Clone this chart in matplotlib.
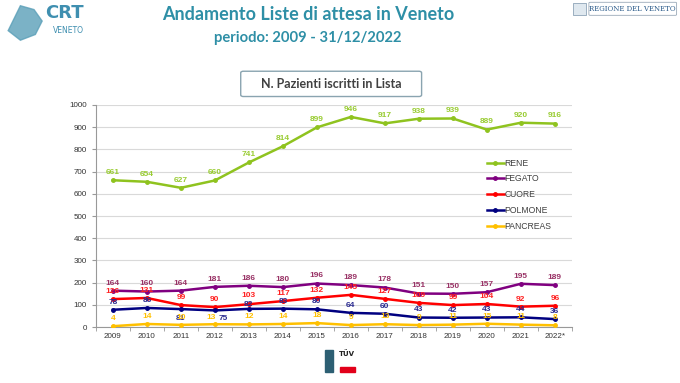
import matplotlib.pyplot as plt
from matplotlib.patches import FancyBboxPatch, Rectangle, Polygon
import numpy as np

# Waiting list data, Veneto
years = ['2009', '2010', '2011', '2012', '2013', '2014', '2015', '2016',
         '2017', '2018', '2019', '2020', '2021', '2022*']
rene = [661, 654, 627, 660, 741, 814, 899, 946, 917, 938, 939, 889, 920, 916]
fegato = [164, 160, 164, 181, 186, 180, 196, 189, 178, 151, 150, 157, 195, 189]
cuore = [126, 131, 99, 90, 103, 117, 132, 145, 127, 109, 99, 104, 92, 96]
polmone = [78, 86, 81, 75, 82, 83, 80, 64, 60, 43, 42, 43, 44, 36]
pancreas = [4, 14, 10, 13, 12, 14, 18, 9, 13, 9, 11, 15, 11, 8]

series = [
    ('RENE', rene, '#8fc31f', '#99cc33'),
    ('FEGATO', fegato, '#800080', '#993366'),
    ('CUORE', cuore, '#ff0000', '#ff2020'),
    ('POLMONE', polmone, '#000080', '#2a2a90'),
    ('PANCREAS', pancreas, '#ffc000', '#ffc000'),
]

title_col = '#2e8fa6'
arial = 'Liberation Sans'

fig = plt.figure(figsize=(6.8, 3.83), dpi=100)
fig.patch.set_facecolor('white')

# titles
fig.text(0.453, 0.963, 'Andamento Liste di attesa in Veneto', ha='center', va='center',
         fontsize=13, color=title_col, fontweight='bold', family='Lato')
fig.text(0.453, 0.900, 'periodo: 2009 - 31/12/2022', ha='center', va='center',
         fontsize=10.6, color=title_col, fontweight='bold', family='Lato')

# CRT logo (approximate)
fig.patches.append(Polygon([[0.012, 0.92], [0.03, 0.985], [0.05, 0.975], [0.062, 0.945],
                            [0.052, 0.91], [0.03, 0.895]], closed=True,
                           transform=fig.transFigure, color='#5a9fb8', alpha=0.8))
fig.text(0.066, 0.965, 'CRT', fontsize=13, color='#3f8fb0', fontweight='bold', va='center')
fig.text(0.078, 0.92, 'VENETO', fontsize=5.5, color='#3f8fb0', va='center')

# Regione del Veneto logo (approximate)
fig.patches.append(Rectangle((0.842, 0.962), 0.02, 0.03, transform=fig.transFigure,
                             facecolor='#dfe8ef', edgecolor='#7a94aa', lw=0.5))
fig.patches.append(FancyBboxPatch((0.868, 0.962), 0.125, 0.03, boxstyle='round,pad=0.002',
                                  transform=fig.transFigure, facecolor='white',
                                  edgecolor='#9aa9b8', lw=0.6))
fig.text(0.93, 0.977, 'REGIONE DEL VENETO', ha='center', va='center', fontsize=5,
         color='#2a5a8a', family='DejaVu Serif')

# subtitle box
fig.patches.append(FancyBboxPatch((0.358, 0.752), 0.258, 0.058, boxstyle='round,pad=0.004',
                                  transform=fig.transFigure, facecolor='white',
                                  edgecolor='#8aa4b0', lw=1.0))
fig.text(0.487, 0.781, 'N. Pazienti iscritti in Lista', ha='center', va='center',
         fontsize=9, color='#404040', fontweight='bold', family='Lato')

# bottom logos (approximate)
fig.patches.append(Rectangle((0.478, 0.03), 0.012, 0.055, transform=fig.transFigure,
                             color='#2d5f73'))
fig.text(0.51, 0.07, 'TÜV', fontsize=5, color='#222222', fontweight='bold', ha='center')
fig.patches.append(Rectangle((0.5, 0.03), 0.022, 0.012, transform=fig.transFigure,
                             color='#e2001a'))

ax = fig.add_axes([0.141, 0.146, 0.7, 0.58])
x = np.arange(len(years))

# label offsets (points) that differ from the default above-point placement
offsets = {('POLMONE', 2): (0, -6.5), ('POLMONE', 3): (6, -6), ('POLMONE', 4): (0, 3.5),
           ('CUORE', 4): (0, 6.5), ('PANCREAS', 3): (-3, 5)}
for name, vals, lc, tc in series:
    ax.plot(x, vals, color=lc, lw=1.8, marker='o', markersize=2.5, label=name, zorder=3)
    for i, v in enumerate(vals):
        off = offsets.get((name, i), (0, 5.5))
        ax.annotate(str(v), (i, v), xytext=off, textcoords='offset points',
                    ha='center', va='center', fontsize=6, color=tc, fontweight='bold',
                    family=arial)

ax.set_xlim(-0.5, len(years) - 0.5)
ax.set_ylim(0, 1000)
ax.set_yticks(np.arange(0, 1001, 100))
ax.set_xticks(x)
ax.set_xticklabels(years, family=arial)
ax.set_yticklabels([str(v) for v in range(0, 1001, 100)], family=arial)
ax.set_xticks(np.arange(-0.5, len(years), 1), minor=True)
ax.tick_params(axis='x', which='major', length=0, labelsize=5.8, colors='#333333', pad=4)
ax.tick_params(axis='x', which='minor', length=3, color='#999999')
ax.tick_params(axis='y', labelsize=5.8, colors='#333333', length=3, color='#999999')
ax.grid(axis='y', color='#d9d9d9', lw=0.8)
ax.set_axisbelow(True)
for s in ['top', 'right']:
    ax.spines[s].set_visible(False)
for s in ['left', 'bottom']:
    ax.spines[s].set_color('#999999')

ax.legend(loc='upper left', bbox_to_anchor=(0.815, 0.774), frameon=False,
          prop={'family': arial, 'size': 6.2},
          handlelength=1.9, handletextpad=0.1, labelspacing=0.8, labelcolor='#404040',
          borderaxespad=0)

plt.savefig('out.png', dpi=100)
